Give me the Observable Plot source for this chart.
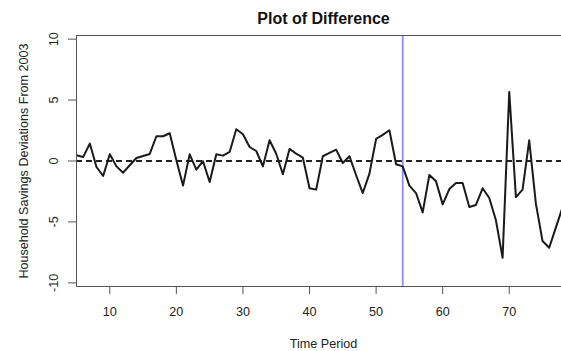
<!DOCTYPE html>
<html>
<head>
<meta charset="utf-8">
<script src="https://cdn.jsdelivr.net/npm/d3@7"></script>
<script src="https://cdn.jsdelivr.net/npm/@observablehq/plot@0.6"></script>
<style>
  body { margin: 0; background: #fff; }
  #chart { width: 561px; height: 351px; overflow: hidden; }
  #chart svg { display: block; }
</style>
</head>
<body>
<div id="chart"></div>
<script>
const period = [5, 6, 7, 8, 9, 10, 11, 12, 13, 14, 15, 16, 17, 18, 19, 20, 21, 22, 23, 24,
  25, 26, 27, 28, 29, 30, 31, 32, 33, 34, 35, 36, 37, 38, 39, 40, 41, 42, 43, 44,
  45, 46, 47, 48, 49, 50, 51, 52, 53, 54, 55, 56, 57, 58, 59, 60, 61, 62, 63, 64,
  65, 66, 67, 68, 69, 70, 71, 72, 73, 74, 75, 76, 77, 78];
const deviation = [0.47, 0.33, 1.43, -0.49, -1.23, 0.55, -0.44, -0.96, -0.35, 0.25,
  0.41, 0.58, 2.03, 2.03, 2.28, 0.06, -2.02, 0.55, -0.71, -0.02,
  -1.72, 0.55, 0.44, 0.74, 2.6, 2.19, 1.15, 0.82, -0.44, 1.70,
  0.6, -1.09, 0.99, 0.6, 0.28, -2.24, -2.35, 0.39, 0.66, 0.93,
  -0.16, 0.39, -1.17, -2.63, -1.04, 1.81, 2.14, 2.52, -0.27, -0.44,
  -2.02, -2.63, -4.22, -1.15, -1.67, -3.56, -2.30, -1.81, -1.81, -3.78,
  -3.61, -2.24, -3.04, -4.87, -7.94, 5.67, -2.96, -2.35, 1.70, -3.5,
  -6.57, -7.12, -5.47, -3.8];
const xTicks = [10, 20, 30, 40, 50, 60, 70];
const yTicks = [-10, -5, 0, 5, 10];
const referenceLevel = [0];
const breakPeriod = [54];
const titleText = ["Plot of Difference"];
const xLabelText = ["Time Period"];
const yLabelText = ["Household Savings Deviations From 2003"];

const data = period.map((t, i) => ({t, v: deviation[i]}));
const font = "'Liberation Sans', Arial, Helvetica, sans-serif";

const chart = Plot.plot({
  width: 561,
  height: 351,
  marginLeft: 76,
  marginRight: -9,
  marginTop: 35,
  marginBottom: 65,
  style: {fontFamily: font, fontSize: "12.6px", color: "#222", background: "white", overflow: "hidden"},
  x: {domain: [5, 79.2]},
  y: {domain: [-10.3, 10.3]},
  marks: [
    Plot.ruleY(referenceLevel, {stroke: "#222", strokeWidth: 2, strokeDasharray: "6,4"}),
    Plot.ruleX(breakPeriod, {stroke: "#8c8cff", strokeWidth: 1.8}),
    Plot.line(data, {x: "t", y: "v", stroke: "#1a1a1a", strokeWidth: 2, clip: true}),
    Plot.frame({stroke: "#555"}),
    Plot.axisX({ticks: xTicks, tickSize: 8, tickFormat: () => "", label: null, stroke: "#555"}),
    Plot.axisY({ticks: yTicks, tickSize: 8, tickFormat: () => "", label: null, stroke: "#555"}),
    Plot.text(xTicks, {x: d => d, text: d => String(d), frameAnchor: "bottom", dy: 25, textAnchor: "middle", lineAnchor: "middle", fill: "#222"}),
    Plot.text(yTicks, {y: d => d, text: d => String(d), frameAnchor: "left", dx: -23, rotate: -90, textAnchor: "middle", lineAnchor: "middle", fill: "#222"}),
    Plot.text(titleText, {text: d => d, frameAnchor: "top", dy: -17, textAnchor: "middle", lineAnchor: "middle", fontWeight: "bold", fontSize: 16, fill: "#111"}),
    Plot.text(xLabelText, {text: d => d, frameAnchor: "bottom", dy: 57, textAnchor: "middle", lineAnchor: "middle", fill: "#222"}),
    Plot.text(yLabelText, {text: d => d, frameAnchor: "left", dx: -53, rotate: -90, textAnchor: "middle", lineAnchor: "middle", fill: "#222"})
  ]
});
document.getElementById("chart").append(chart);
</script>
</body>
</html>
